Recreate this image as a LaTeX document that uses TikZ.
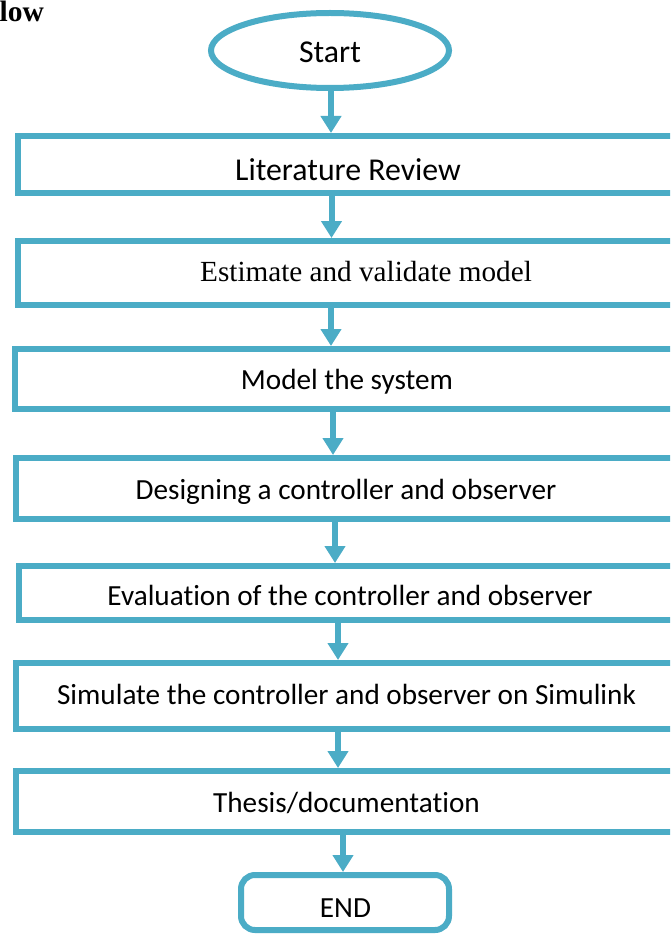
\documentclass[tikz,border=0pt]{standalone}
\usepackage{fontspec}
\setmainfont{Carlito}[Ligatures=NoCommon]
\newfontfamily\timesf{Liberation Serif}
\usetikzlibrary{arrows.meta,shapes.geometric}
\definecolor{flowblue}{RGB}{75,172,198}
\begin{document}
\begin{tikzpicture}[x=1pt,y=-1pt,
  box/.style={draw=flowblue, line width=6pt, rectangle, inner sep=0pt, outer sep=0pt, anchor=north west, minimum width=690pt},
  lbl/.style={anchor=base, inner sep=0pt, font=\fontsize{29.2}{35}\selectfont},
  biglbl/.style={anchor=base, inner sep=0pt, font=\fontsize{31.8}{38}\selectfont},
  arr/.style={draw=flowblue, line width=6pt, -{Triangle[width=20pt,length=17pt]}, shorten <=3pt, shorten >=3pt}]
\clip (0,0) rectangle (670,936);
\fill[white] (0,0) rectangle (670,936);
% heading fragment
\node[anchor=base east, inner sep=0pt, font=\timesf\bfseries\fontsize{29.5}{34}\selectfont] (head) at (44,22) {low};
% shapes
\node[draw=flowblue, line width=6pt, ellipse, minimum width=238pt, minimum height=75pt, inner sep=0pt, outer sep=0pt] (start) at (330,50.5) {};
\node[box, minimum height=57pt] (b1) at (18,136) {};
\node[box, minimum height=64pt] (b2) at (18,241) {};
\node[box, minimum height=60pt] (b3) at (15,349) {};
\node[box, minimum height=61pt] (b4) at (16,458) {};
\node[box, minimum height=54pt] (b5) at (18.5,566) {};
\node[box, minimum height=66pt] (b6) at (16,663) {};
\node[box, minimum height=61pt] (b7) at (16,771) {};
\node[draw=flowblue, line width=6pt, rectangle, rounded corners=14pt, minimum width=208pt, minimum height=55pt, inner sep=0pt, outer sep=0pt, anchor=north west] (endb) at (241,875) {};
% labels
\node[biglbl] (t0) at (330,63) {Start};
\node[biglbl] (t1) at (348,180) {Literature Review};
\node[lbl, font=\timesf\fontsize{29.2}{35}\selectfont] (t2) at (366,281) {Estimate and validate model};
\node[lbl] (t3) at (347,389) {Model the system};
\node[lbl] (t4) at (346,499) {Designing a controller and observer};
\node[lbl] (t5) at (350,605) {Evaluation of the controller and observer};
\node[lbl] (t6) at (346.5,704) {Simulate the controller and observer on Simulink};
\node[lbl] (t7) at (346.5,812) {Thesis/documentation};
\node[lbl] (t8) at (345.5,917) {END};
% connectors
\draw[arr] (331,0 |- start.south) -- (331,0 |- b1.north);
\draw[arr] (331.5,0 |- b1.south) -- (331.5,0 |- b2.north);
\draw[arr] (331,0 |- b2.south) -- (331,0 |- b3.north);
\draw[arr] (333,0 |- b3.south) -- (333,0 |- b4.north);
\draw[arr] (335,0 |- b4.south) -- (335,0 |- b5.north);
\draw[arr] (338,0 |- b5.south) -- (338,0 |- b6.north);
\draw[arr] (338,0 |- b6.south) -- (338,0 |- b7.north);
\draw[arr] (343,0 |- b7.south) -- (343,0 |- endb.north);
\end{tikzpicture}
\end{document}
